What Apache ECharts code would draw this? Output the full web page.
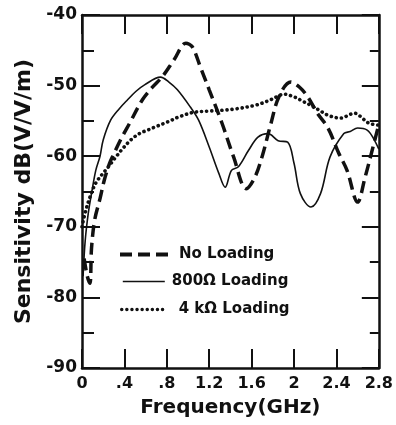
<!DOCTYPE html>
<html>
<head>
<meta charset="utf-8">
<script src="https://cdn.jsdelivr.net/npm/echarts@6/dist/echarts.min.js"></script>
<style>
html,body{margin:0;padding:0;background:#fff;}
#chart{width:396px;height:425px;}
</style>
</head>
<body>
<div id="chart"></div>
<script>
// ---- data ----
var seriesNames = ['No Loading', '800\u03A9 Loading', '4 k\u03A9 Loading'];

var freqNoLoad = [0.02, 0.05, 0.075, 0.09, 0.12, 0.17, 0.21, 0.26, 0.29, 0.37, 0.45, 0.57, 0.66, 0.76, 0.87, 0.98, 1.04, 1.12, 1.2, 1.32, 1.43, 1.55, 1.63, 1.7, 1.78, 1.86, 1.97, 2.05, 2.13, 2.22, 2.32, 2.42, 2.5, 2.6, 2.67, 2.74, 2.8];
var valNoLoad  = [-74.5, -77, -78, -73, -69, -66, -63.4, -61, -60, -57.5, -55.3, -52, -50.3, -48.7, -46.3, -44, -44.5, -47.5, -50.6, -55.3, -60.1, -64.6, -63, -60, -55.5, -51.5, -49.5, -50.2, -51.6, -53.9, -56, -59.5, -62, -66.5, -63, -59, -55.5];

var freq800 = [0.01, 0.03, 0.06, 0.093, 0.13, 0.17, 0.2, 0.27, 0.35, 0.43, 0.51, 0.59, 0.74, 0.82, 0.9, 1.02, 1.1, 1.2, 1.29, 1.35, 1.41, 1.475, 1.57, 1.66, 1.755, 1.85, 1.94, 2.0, 2.06, 2.16, 2.25, 2.34, 2.47, 2.53, 2.6, 2.69, 2.75, 2.8];
var val800  = [-77, -72, -68, -65, -62, -60, -57.7, -54.9, -53.3, -52, -50.8, -49.9, -48.8, -49.5, -50.6, -53, -54.9, -58.7, -62.4, -64.4, -62, -61.5, -59.2, -57.3, -56.8, -57.8, -58, -61, -65.3, -67.2, -65.3, -60.1, -56.8, -56.5, -56, -56.3, -57.5, -59];

var freq4k = [0.0, 0.03, 0.075, 0.13, 0.2, 0.26, 0.31, 0.38, 0.46, 0.54, 0.62, 0.7, 0.8, 0.92, 1.05, 1.2, 1.32, 1.45, 1.63, 1.75, 1.85, 1.9, 2.0, 2.08, 2.16, 2.24, 2.32, 2.44, 2.5, 2.57, 2.63, 2.69, 2.75, 2.8];
var val4k  = [-70, -68, -65.8, -63.8, -62.4, -61.3, -60.3, -59, -57.7, -56.8, -56.3, -55.8, -55.2, -54.4, -53.8, -53.6, -53.5, -53.3, -52.8, -52.2, -51.5, -51.2, -51.6, -52.2, -52.8, -53.5, -54.2, -54.6, -54.3, -53.9, -54.4, -55.2, -55.5, -55.6];

var xTickLabels = ['0', '.4', '.8', '1.2', '1.6', '2', '2.4', '2.8'];
var yTickLabels = ['-90', '-80', '-70', '-60', '-50', '-40'];

// ---- build ----
function pairs(xs, ys) { return xs.map(function (x, i) { return [x, ys[i]]; }); }
var INK = '#111';
var FONT = 'DejaVu Sans';
var labelStyle = { color: INK, fontFamily: FONT, fontWeight: 'bold', fontSize: 16 };

var chart = echarts.init(document.getElementById('chart'), null, { renderer: 'canvas' });

function legendAt(name, left, top, w, pad, lw) {
  return {
    show: true,
    data: [name], left: left, top: top, orient: 'horizontal',
    itemWidth: w, itemHeight: 14, selectedMode: false, padding: 0,
    itemStyle: { color: 'transparent', borderWidth: 0, opacity: 0 },
    lineStyle: { width: lw },
    textStyle: { color: INK, fontFamily: FONT, fontWeight: 'bold', fontSize: 15, padding: [0, 0, 0, pad] }
  };
}

var dashStyle = { color: INK, width: 3.5, type: [12, 6] };
var solidStyle = { color: INK, width: 1.6, type: 'solid' };
var dotStyle = { color: INK, width: 3.6, type: [0.1, 5], cap: 'round' };

chart.setOption({
  backgroundColor: '#fff',
  animation: false,
  grid: { left: 82, right: 14, top: 15, bottom: 57, containLabel: false },
  legend: [
    legendAt(seriesNames[0], 118, 247, 49, 5, 4),
    legendAt(seriesNames[1], 122, 274, 42, 2, 1.6),
    legendAt(seriesNames[2], 120, 302, 42, 10, 3.4)
  ],
  xAxis: [{
    type: 'value', min: 0, max: 2.8, interval: 0.4,
    axisLine: { show: true, onZero: false, lineStyle: { color: INK, width: 2.5 } },
    axisTick: { show: true, inside: true, length: 19, lineStyle: { color: INK, width: 2 } },
    axisLabel: Object.assign({ margin: 8, formatter: function (v) { return xTickLabels[Math.round(v / 0.4)]; } }, labelStyle),
    splitLine: { show: false },
    name: 'Frequency(GHz)', nameLocation: 'middle', nameGap: 30,
    nameTextStyle: { color: INK, fontFamily: FONT, fontWeight: 'bold', fontSize: 20 }
  }, {
    type: 'value', position: 'top', min: 0, max: 2.8, interval: 0.4,
    axisLine: { show: true, onZero: false, lineStyle: { color: INK, width: 2.5 } },
    axisTick: { show: true, inside: true, length: 19, lineStyle: { color: INK, width: 2 } },
    axisLabel: { show: false }, splitLine: { show: false }
  }],
  yAxis: [{
    type: 'value', min: -90, max: -40, interval: 10,
    axisLine: { show: true, onZero: false, lineStyle: { color: INK, width: 2.5 } },
    axisTick: { show: true, inside: true, length: 18, lineStyle: { color: INK, width: 2 } },
    minorTick: { show: true, splitNumber: 2, length: 12, lineStyle: { color: INK, width: 2 } },
    axisLabel: Object.assign({ margin: 5, formatter: function (v) { return yTickLabels[Math.round((v + 90) / 10)]; } }, labelStyle, { fontSize: 17 }),
    splitLine: { show: false }, minorSplitLine: { show: false },
    name: 'Sensitivity dB(V/V/m)', nameLocation: 'middle', nameGap: 47,
    nameTextStyle: { color: INK, fontFamily: FONT, fontWeight: 'bold', fontSize: 22 }
  }, {
    type: 'value', position: 'right', min: -90, max: -40, interval: 10,
    axisLine: { show: true, onZero: false, lineStyle: { color: INK, width: 2.5 } },
    axisTick: { show: true, inside: true, length: 17, lineStyle: { color: INK, width: 2 } },
    minorTick: { show: true, splitNumber: 2, length: 9, lineStyle: { color: INK, width: 2 } },
    axisLabel: { show: false }, splitLine: { show: false }, minorSplitLine: { show: false }
  }],
  series: [{
    name: seriesNames[0], type: 'line', data: pairs(freqNoLoad, valNoLoad),
    symbol: 'none', smooth: 0.35, lineStyle: dashStyle, itemStyle: { color: INK }
  }, {
    name: seriesNames[1], type: 'line', data: pairs(freq800, val800),
    symbol: 'none', smooth: 0.35, lineStyle: solidStyle, itemStyle: { color: INK }
  }, {
    name: seriesNames[2], type: 'line', data: pairs(freq4k, val4k),
    symbol: 'none', smooth: 0.35, lineStyle: dotStyle, itemStyle: { color: INK }
  }]
});
</script>
</body>
</html>
